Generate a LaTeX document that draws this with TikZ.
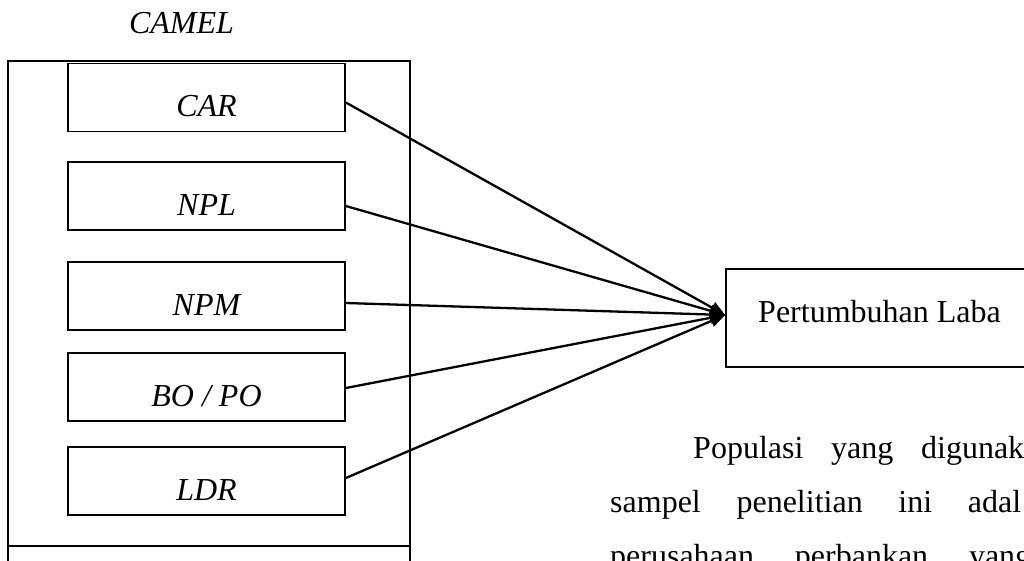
\documentclass[tikz,border=0pt]{standalone}
\usepackage{fontspec}
\setmainfont{Liberation Serif}
\usepackage{tikz}
\usetikzlibrary{positioning, arrows.meta}
\definecolor{cmInk}{RGB}{0, 0, 0}
\tikzset{
    base/.style={
        font=\fontsize{32}{38}\selectfont,
        text=cmInk
    },
    indicator/.style={
        base,
        font=\fontsize{32}{38}\selectfont\itshape,
        rectangle,
        draw=cmInk,
        line width=1.7pt,
        minimum width=277pt,
        text height=53pt,
        text depth=15pt,
        inner sep=0pt
    },
    outcome/.style={
        base,
        rectangle,
        draw=cmInk,
        line width=1.7pt,
        minimum width=307pt,
        text height=53pt,
        text depth=45pt,
        inner sep=0pt
    },
    frame/.style={
        line width=1.5pt,
        draw=cmInk
    },
    flow/.style={
        -{Triangle[length=15pt, width=12pt]},
        line width=2.3pt,
        color=cmInk
    },
    bodytext/.style={
        base,
        anchor=base west,
        inner sep=0pt
    }
}
\begin{document}
\begin{tikzpicture}[x=1pt, y=-1pt]
    \useasboundingbox (0,0) rectangle (1024,560);
    \clip (0,0) rectangle (1024,560);

    % Group title and frame
    \node[base, font=\fontsize{32}{38}\selectfont\itshape, anchor=base] (camel) at (181.5,33) {CAMEL};
    \draw[frame] (8,570) |- (410,61) -- (410,570);
    \draw[frame] (8,546) -- (410,546);

    % Indicators
    \node[indicator] (car) at (206.5,97.5) {CAR};
    \node[indicator] (npl) at (206.5,196) {NPL};
    \node[indicator] (npm) at (206.5,296) {NPM};
    \node[indicator] (bopo) at (206.5,387) {BO / PO};
    \node[indicator] (ldr) at (206.5,481) {LDR};

    % Outcome
    \node[outcome] (laba) at (879.5,318) {Pertumbuhan Laba};

    % Effects
    \draw[flow] ([yshift=-5pt]car.east) -- ([yshift=3pt]laba.west);
    \draw[flow] ([yshift=-10pt]npl.east) -- ([yshift=3pt]laba.west);
    \draw[flow] ([yshift=-7pt]npm.east) -- ([yshift=3pt]laba.west);
    \draw[flow] ([yshift=-1pt]bopo.east) -- ([yshift=3pt]laba.west);
    \draw[flow] ([yshift=3pt]ldr.east) -- ([yshift=3pt]laba.west);

    % Page text
    \node[bodytext] (par1) at (693,458) {\hbox to 331pt{Populasi\hfill yang\hfill digunak}};
    \node[bodytext] (par2) at (610,512) {\hbox to 411pt{sampel\hfill penelitian\hfill ini\hfill adal}};
    \node[bodytext] (par3) at (610,566) {\hbox to 421pt{perusahaan\hfill perbankan\hfill yang}};
\end{tikzpicture}
\end{document}
